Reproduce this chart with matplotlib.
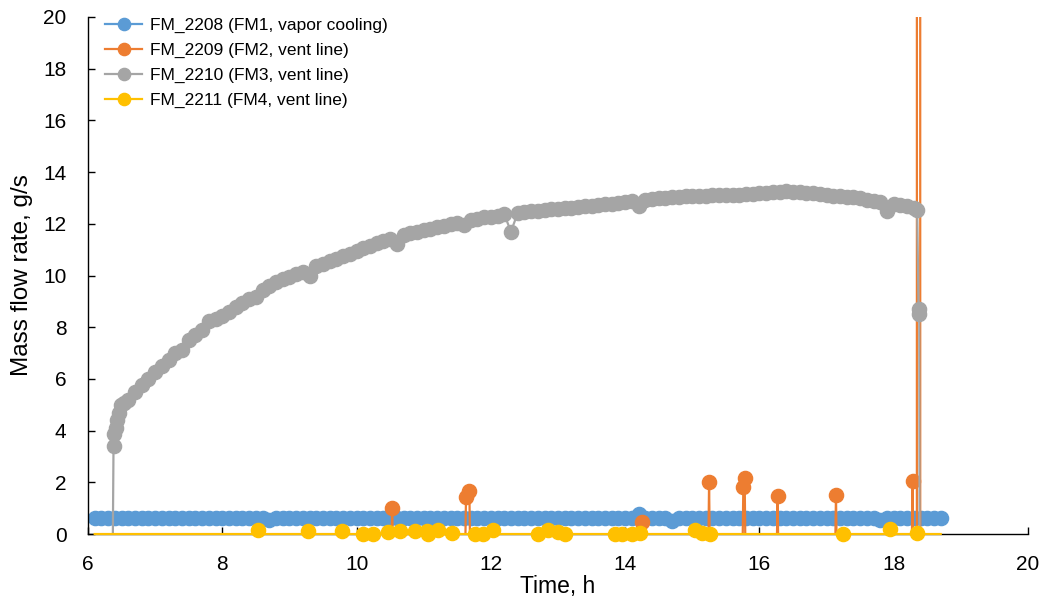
import numpy as np
import matplotlib
matplotlib.use("Agg")
from matplotlib import pyplot as plt
from matplotlib.lines import Line2D

plt.rcParams['font.family'] = ['Liberation Sans', 'DejaVu Sans']

# time grid of the logged data, h
t_blue = np.arange(61, 188) / 10.0   # 6.1 ... 18.7
blue = [0.62, 0.61, 0.60, 0.62, 0.60, 0.61, 0.60, 0.62, 0.61, 0.60,   # 6.1-7.0
        0.61, 0.60, 0.62, 0.60, 0.61, 0.60, 0.61, 0.60, 0.62, 0.60,   # 7.1-8.0
        0.60, 0.61, 0.60, 0.60, 0.61, 0.60, 0.56, 0.60, 0.61, 0.60,   # 8.1-9.0
        0.60, 0.61, 0.60, 0.62, 0.60, 0.61, 0.60, 0.60, 0.61, 0.60,   # 9.1-10.0
        0.61, 0.60, 0.60, 0.62, 0.60, 0.61, 0.60, 0.61, 0.60, 0.60,   # 10.1-11.0
        0.60, 0.61, 0.60, 0.61, 0.60, 0.60, 0.61, 0.60, 0.62, 0.60,   # 11.1-12.0
        0.61, 0.60, 0.60, 0.61, 0.60, 0.61, 0.60, 0.60, 0.61, 0.60,   # 12.1-13.0
        0.60, 0.61, 0.60, 0.60, 0.61, 0.60, 0.61, 0.60, 0.61, 0.60,   # 13.1-14.0
        0.61, 0.78, 0.60, 0.61, 0.60, 0.61, 0.50, 0.60, 0.61, 0.60,   # 14.1-15.0
        0.60, 0.61, 0.60, 0.61, 0.60, 0.60, 0.61, 0.60, 0.60, 0.61,   # 15.1-16.0
        0.60, 0.61, 0.60, 0.60, 0.61, 0.60, 0.61, 0.60, 0.60, 0.61,   # 16.1-17.0
        0.60, 0.61, 0.60, 0.60, 0.61, 0.60, 0.61, 0.53, 0.60, 0.61,   # 17.1-18.0
        0.60, 0.61, 0.60, 0.60, 0.61, 0.60, 0.61]                     # 18.1-18.7

# FM3: start-up, regular grid 6.6 ... 18.3, shut-down
grey_start_t = [6.10, 6.37, 6.38, 6.39, 6.41, 6.43, 6.46, 6.49, 6.53]
grey_start = [-0.1, -0.1, 3.40, 3.85, 4.10, 4.40, 4.70, 5.00, 5.05]
t_grey = np.arange(66, 184) / 10.0
grey = [5.20, 5.50, 5.75, 6.00,
        6.25, 6.50, 6.75, 7.00, 7.10, 7.50, 7.70, 7.90, 8.25, 8.30,
        8.45, 8.60, 8.80, 8.95, 9.10, 9.15, 9.45, 9.60, 9.75, 9.85,
        9.95, 10.05, 10.15, 10.00, 10.35, 10.45, 10.55, 10.65, 10.75, 10.85,
        10.95, 11.05, 11.15, 11.25, 11.35, 11.40, 11.20, 11.55, 11.65, 11.70,
        11.75, 11.80, 11.87, 11.93, 12.00, 12.05, 11.95, 12.15, 12.20, 12.25,
        12.28, 12.32, 12.36, 11.70, 12.42, 12.45, 12.48, 12.50, 12.53, 12.56,
        12.58, 12.60, 12.63, 12.65, 12.68, 12.70, 12.72, 12.75, 12.78, 12.82,
        12.85, 12.87, 12.70, 12.93, 12.95, 12.98, 13.00, 13.02, 13.05, 13.06,
        13.07, 13.08, 13.09, 13.10, 13.10, 13.11, 13.12, 13.13, 13.15, 13.17,
        13.18, 13.20, 13.22, 13.24, 13.25, 13.24, 13.22, 13.20, 13.18, 13.14,
        13.10, 13.08, 13.06, 13.05, 13.02, 12.98, 12.94, 12.90, 12.86, 12.50,
        12.77, 12.72, 12.67, 12.60]
grey_end_t = [18.35, 18.37, 18.38, 18.385, 18.70]
grey_end = [12.55, 8.70, 8.50, -0.1, -0.1]

# FM2: flat below zero with short spikes
orange_t = [6.10, 10.52, 10.53, 10.54, 11.62, 11.63, 11.68, 11.69,
            14.24, 14.25, 14.26, 15.24, 15.25, 15.26, 15.75, 15.76, 15.78, 15.79,
            16.26, 16.27, 16.28, 17.13, 17.14, 17.15, 18.27, 18.28, 18.29,
            18.345, 18.35, 18.39, 18.395, 18.70]
orange = [-0.3, -0.3, 1.00, -0.3, -0.3, 1.45, 1.65, -0.3,
          -0.3, 0.47, -0.3, -0.3, 2.00, -0.3, -0.3, 1.80, 2.15, -0.3,
          -0.3, 1.47, -0.3, -0.3, 1.50, -0.3, -0.3, 2.05, -0.3,
          -0.3, 500.0, 500.0, -0.3, -0.3]

# FM4: sits on zero, occasional small readings
yellow_start, yellow_end = 6.10, 18.70
yellow_t = [8.53, 9.28, 9.78, 10.10, 10.25, 10.47, 10.65, 10.87, 11.05,
            11.07, 11.21, 11.42, 11.77, 11.88, 12.03, 12.70, 12.85, 13.00, 13.10,
            13.85, 13.95, 14.10, 14.22, 15.04, 15.14, 15.26, 17.25, 17.94, 18.35]
yellow = [0.14, 0.12, 0.12, 0.00, 0.00, 0.07, 0.12, 0.10, 0.12,
          0.00, 0.15, 0.05, 0.00, 0.00, 0.15, 0.00, 0.15, 0.07, 0.00,
          0.00, 0.00, 0.00, 0.05, 0.15, 0.05, 0.00, 0.00, 0.20, 0.05]

labels = ['FM_2208 (FM1, vapor cooling)', 'FM_2209 (FM2, vent line)',
          'FM_2210 (FM3, vent line)', 'FM_2211 (FM4, vent line)']
colors = ['#5B9BD5', '#ED7D31', '#A5A5A5', '#FFC000']

fig = plt.figure(figsize=(10.46, 6), dpi=100)
ax = fig.add_axes([88/1046, 66/600, 940/1046, 517/600])

ms = 10.2
lw = 1.6


def draw(t, v, c, clip=True, z=2):
    v = np.asarray(v, dtype=float)
    shown = [i for i in range(len(v)) if 0 <= v[i] <= 20]
    ax.plot(t, v, '-', color=c, lw=lw, marker='o', ms=ms, mec=c, mfc=c,
            markevery=shown, clip_on=clip, solid_joinstyle='round', zorder=z)


draw(t_blue, blue, colors[0])
draw(orange_t, orange, colors[1])
draw(np.concatenate([grey_start_t, t_grey, grey_end_t]),
     grey_start + grey + grey_end, colors[2])

# yellow: baseline at zero, readings drawn as blips on it
yt, yv = [yellow_start], [-0.001]
for t, v in zip(yellow_t, yellow):
    yt += [t - 0.004, t, t + 0.004]
    yv += [-0.001, v, -0.001]
yt.append(yellow_end)
yv.append(-0.001)
draw(yt, yv, colors[3], clip=False, z=3)

ax.set_xlim(6, 20)
ax.set_ylim(0, 20)
ax.set_xticks(np.arange(6, 21, 2))
ax.set_yticks(np.arange(0, 21, 2))
for s in ['top', 'right']:
    ax.spines[s].set_visible(False)
for s in ['left', 'bottom']:
    ax.spines[s].set_linewidth(1.0)
    ax.spines[s].set_color('black')
ax.tick_params(axis='both', direction='in', length=5, width=1.0, labelsize=15)
ax.tick_params(axis='x', pad=15)
ax.tick_params(axis='y', pad=15.5)

ax.set_xlabel('Time, h', fontsize=16.5, labelpad=1)
ax.set_ylabel('Mass flow rate, g/s', fontsize=17.5, labelpad=7)

handles = [Line2D([], [], color=c, lw=lw, marker='o', ms=8.8) for c in colors]
ax.legend(handles, labels, loc='upper left', bbox_to_anchor=(0.018, 0.998),
          frameon=False, fontsize=12.5, handlelength=2.15, handletextpad=0.46,
          labelspacing=0.56, borderpad=0, borderaxespad=0)

fig.savefig('out.png', dpi=100)
